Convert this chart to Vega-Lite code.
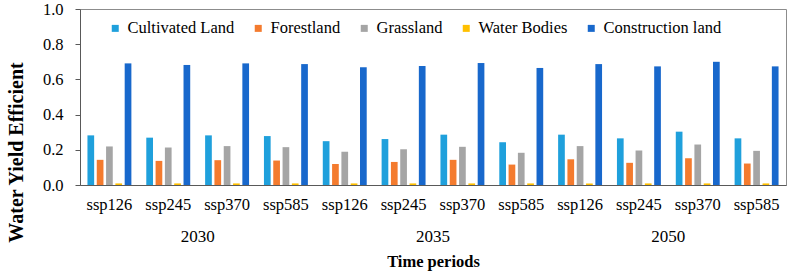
{
  "$schema": "https://vega.github.io/schema/vega-lite/v6.json",
  "width": 706,
  "height": 176,
  "autosize": {"type": "none"},
  "padding": {"left": 80, "top": 9, "right": 10, "bottom": 88},
  "background": "white",
  "config": {
    "font": "Liberation Serif",
    "view": {"stroke": "#8c8c8c", "strokeWidth": 1},
    "axis": {"grid": false, "labelFont": "Liberation Serif", "titleFont": "Liberation Serif", "labelColor": "#000000", "titleColor": "#000000"},
    "legend": {"labelFont": "Liberation Serif", "padding": 0},
    "text": {"font": "Liberation Serif"}
  },
  "data": {
    "values": [
      {"group": "2030 ssp126", "period": "2030", "landuse": "Cultivated Land", "value": 0.282},
      {"group": "2030 ssp126", "period": "2030", "landuse": "Forestland", "value": 0.143},
      {"group": "2030 ssp126", "period": "2030", "landuse": "Grassland", "value": 0.219},
      {"group": "2030 ssp126", "period": "2030", "landuse": "Water Bodies", "value": 0.009},
      {"group": "2030 ssp126", "period": "2030", "landuse": "Construction land", "value": 0.691},
      {"group": "2030 ssp245", "period": "2030", "landuse": "Cultivated Land", "value": 0.269},
      {"group": "2030 ssp245", "period": "2030", "landuse": "Forestland", "value": 0.137},
      {"group": "2030 ssp245", "period": "2030", "landuse": "Grassland", "value": 0.213},
      {"group": "2030 ssp245", "period": "2030", "landuse": "Water Bodies", "value": 0.009},
      {"group": "2030 ssp245", "period": "2030", "landuse": "Construction land", "value": 0.682},
      {"group": "2030 ssp370", "period": "2030", "landuse": "Cultivated Land", "value": 0.282},
      {"group": "2030 ssp370", "period": "2030", "landuse": "Forestland", "value": 0.141},
      {"group": "2030 ssp370", "period": "2030", "landuse": "Grassland", "value": 0.221},
      {"group": "2030 ssp370", "period": "2030", "landuse": "Water Bodies", "value": 0.009},
      {"group": "2030 ssp370", "period": "2030", "landuse": "Construction land", "value": 0.691},
      {"group": "2030 ssp585", "period": "2030", "landuse": "Cultivated Land", "value": 0.278},
      {"group": "2030 ssp585", "period": "2030", "landuse": "Forestland", "value": 0.139},
      {"group": "2030 ssp585", "period": "2030", "landuse": "Grassland", "value": 0.215},
      {"group": "2030 ssp585", "period": "2030", "landuse": "Water Bodies", "value": 0.009},
      {"group": "2030 ssp585", "period": "2030", "landuse": "Construction land", "value": 0.687},
      {"group": "2035 ssp126", "period": "2035", "landuse": "Cultivated Land", "value": 0.249},
      {"group": "2035 ssp126", "period": "2035", "landuse": "Forestland", "value": 0.120},
      {"group": "2035 ssp126", "period": "2035", "landuse": "Grassland", "value": 0.189},
      {"group": "2035 ssp126", "period": "2035", "landuse": "Water Bodies", "value": 0.009},
      {"group": "2035 ssp126", "period": "2035", "landuse": "Construction land", "value": 0.669},
      {"group": "2035 ssp245", "period": "2035", "landuse": "Cultivated Land", "value": 0.261},
      {"group": "2035 ssp245", "period": "2035", "landuse": "Forestland", "value": 0.131},
      {"group": "2035 ssp245", "period": "2035", "landuse": "Grassland", "value": 0.203},
      {"group": "2035 ssp245", "period": "2035", "landuse": "Water Bodies", "value": 0.009},
      {"group": "2035 ssp245", "period": "2035", "landuse": "Construction land", "value": 0.676},
      {"group": "2035 ssp370", "period": "2035", "landuse": "Cultivated Land", "value": 0.286},
      {"group": "2035 ssp370", "period": "2035", "landuse": "Forestland", "value": 0.143},
      {"group": "2035 ssp370", "period": "2035", "landuse": "Grassland", "value": 0.217},
      {"group": "2035 ssp370", "period": "2035", "landuse": "Water Bodies", "value": 0.009},
      {"group": "2035 ssp370", "period": "2035", "landuse": "Construction land", "value": 0.693},
      {"group": "2035 ssp585", "period": "2035", "landuse": "Cultivated Land", "value": 0.243},
      {"group": "2035 ssp585", "period": "2035", "landuse": "Forestland", "value": 0.116},
      {"group": "2035 ssp585", "period": "2035", "landuse": "Grassland", "value": 0.183},
      {"group": "2035 ssp585", "period": "2035", "landuse": "Water Bodies", "value": 0.009},
      {"group": "2035 ssp585", "period": "2035", "landuse": "Construction land", "value": 0.665},
      {"group": "2050 ssp126", "period": "2050", "landuse": "Cultivated Land", "value": 0.286},
      {"group": "2050 ssp126", "period": "2050", "landuse": "Forestland", "value": 0.146},
      {"group": "2050 ssp126", "period": "2050", "landuse": "Grassland", "value": 0.221},
      {"group": "2050 ssp126", "period": "2050", "landuse": "Water Bodies", "value": 0.009},
      {"group": "2050 ssp126", "period": "2050", "landuse": "Construction land", "value": 0.687},
      {"group": "2050 ssp245", "period": "2050", "landuse": "Cultivated Land", "value": 0.265},
      {"group": "2050 ssp245", "period": "2050", "landuse": "Forestland", "value": 0.126},
      {"group": "2050 ssp245", "period": "2050", "landuse": "Grassland", "value": 0.196},
      {"group": "2050 ssp245", "period": "2050", "landuse": "Water Bodies", "value": 0.009},
      {"group": "2050 ssp245", "period": "2050", "landuse": "Construction land", "value": 0.674},
      {"group": "2050 ssp370", "period": "2050", "landuse": "Cultivated Land", "value": 0.303},
      {"group": "2050 ssp370", "period": "2050", "landuse": "Forestland", "value": 0.152},
      {"group": "2050 ssp370", "period": "2050", "landuse": "Grassland", "value": 0.230},
      {"group": "2050 ssp370", "period": "2050", "landuse": "Water Bodies", "value": 0.009},
      {"group": "2050 ssp370", "period": "2050", "landuse": "Construction land", "value": 0.700},
      {"group": "2050 ssp585", "period": "2050", "landuse": "Cultivated Land", "value": 0.265},
      {"group": "2050 ssp585", "period": "2050", "landuse": "Forestland", "value": 0.122},
      {"group": "2050 ssp585", "period": "2050", "landuse": "Grassland", "value": 0.194},
      {"group": "2050 ssp585", "period": "2050", "landuse": "Water Bodies", "value": 0.009},
      {"group": "2050 ssp585", "period": "2050", "landuse": "Construction land", "value": 0.674}
    ]
  },
  "layer": [
    {
      "mark": {"type": "bar"},
      "encoding": {
        "x": {
          "field": "group", "type": "nominal", "sort": null,
          "scale": {"paddingInner": 0, "paddingOuter": 0},
          "axis": {
            "title": null, "labelAngle": 0, "ticks": false, "domainColor": "#595959",
            "labelExpr": "substring(datum.value, 5)", "labelFont": "Liberation Serif", "labelFontSize": 16.5, "labelPadding": 11,
            "labelBaseline": "top"
          }
        },
        "xOffset": {
          "field": "landuse", "type": "nominal",
          "sort": ["Cultivated Land", "Forestland", "Grassland", "Water Bodies", "Construction land"],
          "scale": {"paddingInner": 0.28, "paddingOuter": 0.8}
        },
        "y": {
          "field": "value", "type": "quantitative",
          "scale": {"domain": [0, 1], "nice": false},
          "axis": {
            "title": "Water Yield Efficient", "values": [0, 0.2, 0.4, 0.6, 0.8, 1.0], "format": ".1f",
            "labelFont": "Liberation Serif", "labelFontSize": 16.5, "labelPadding": 12, "tickSize": 5, "tickColor": "#595959", "domainColor": "#595959",
            "titleFont": "Liberation Serif", "titleFontSize": 20, "titleFontWeight": "bold", "titleAngle": -90, "titleX": -64, "titleY": 143,
            "titleAlign": "center", "titleBaseline": "middle"
          }
        },
        "color": {
          "field": "landuse", "type": "nominal",
          "sort": ["Cultivated Land", "Forestland", "Grassland", "Water Bodies", "Construction land"],
          "scale": {
            "domain": ["Cultivated Land", "Forestland", "Grassland", "Water Bodies", "Construction land"],
            "range": ["#1FA0DC", "#F47B2E", "#A5A5A5", "#FFC000", "#1868CC"]
          },
          "legend": {
            "title": null, "orient": "none", "legendX": 27, "legendY": 11, "direction": "horizontal",
            "symbolType": "square", "symbolSize": 49, "symbolStrokeWidth": 0, "symbolOpacity": 1,
            "labelFont": "Liberation Serif", "labelFontSize": 16.5, "labelOffset": 4, "columnPadding": 15, "labelColor": "#000000"
          }
        }
      }
    },
    {
      "mark": {"type": "rule", "opacity": 0},
      "encoding": {
        "x": {
          "field": "period", "type": "nominal",
          "scale": {"paddingInner": 0, "paddingOuter": 0},
          "axis": {
            "orient": "bottom", "offset": 40, "domain": false, "ticks": false, "labelAngle": 0,
            "labelFont": "Liberation Serif", "labelFontSize": 17, "labelPadding": 3, "labelBaseline": "top",
            "title": "Time periods", "titleFont": "Liberation Serif", "titleFontSize": 16.5, "titleFontWeight": "bold", "titlePadding": 9
          }
        }
      }
    }
  ],
  "resolve": {"scale": {"x": "independent"}, "axis": {"x": "independent"}}
}
